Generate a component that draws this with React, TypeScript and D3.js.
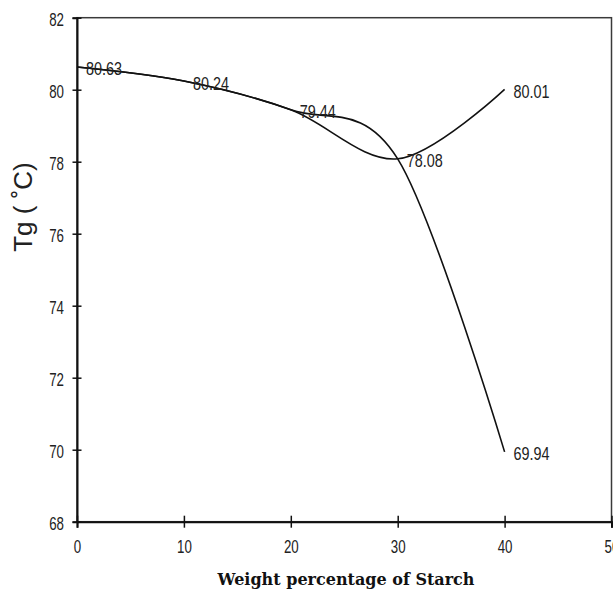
import { useRef, useEffect } from "react";
import * as d3 from "d3";

// starch content (wt %) and Tg readings of the two series
const starchPct = [0, 10, 20, 30, 40];
const tgRising = [80.63, 80.24, 79.44, 78.08, 80.01];
const tgFalling = [80.63, 80.24, 79.44, 78.08, 69.94];
const pointLabels = ["80.63", "80.24", "79.44", "78.08", "80.01", "69.94"];
const xTicks = [0, 10, 20, 30, 40, 50];
const yTicks = [68, 70, 72, 74, 76, 78, 80, 82];

// no narrow font installed, so squeeze Liberation Sans horizontally
const sans = "'Liberation Sans', Arial, sans-serif";
const tickSqueeze = 0.74;
const labelSqueeze = 0.8;

const App = () => {
  const svgRef = useRef<SVGSVGElement | null>(null);

  useEffect(() => {
    const svg = d3.select(svgRef.current);
    svg.selectAll("*").remove();

    const width = 613;
    const height = 592;
    const margin = { top: 17.7, right: 1.5, bottom: 70.3, left: 77 };

    const x = d3
      .scaleLinear()
      .domain([0, 50])
      .range([margin.left, width - margin.right]);

    const y = d3
      .scaleLinear()
      .domain([68, 82])
      .range([height - margin.bottom, margin.top]);

    // plot frame
    svg
      .append("rect")
      .attr("x", x(0))
      .attr("y", y(82))
      .attr("width", x(50) - x(0))
      .attr("height", y(68) - y(82))
      .attr("fill", "none")
      .attr("stroke", "#3a3a3a")
      .attr("stroke-width", 1.5);

    const yAxis = svg
      .append("g")
      .attr("transform", `translate(${x(0)},0)`)
      .call(d3.axisLeft(y).tickValues(yTicks).tickSize(4.5).tickPadding(9.5));
    yAxis.select(".domain").attr("stroke", "#111").attr("stroke-width", 2);
    yAxis.selectAll(".tick line").attr("x1", -4.5).attr("x2", 4.5).attr("stroke", "#111").attr("stroke-width", 1.5);
    yAxis
      .selectAll(".tick text")
      .attr("x", -13 / tickSqueeze)
      .attr("dy", "0.45em")
      .attr("transform", `scale(${tickSqueeze},1)`)
      .attr("font-family", sans)
      .attr("font-size", 18)
      .attr("fill", "#222");

    const xAxis = svg
      .append("g")
      .attr("transform", `translate(0,${y(68)})`)
      .call(d3.axisBottom(x).tickValues(xTicks).tickSize(6).tickPadding(13));
    xAxis.select(".domain").attr("stroke", "#111").attr("stroke-width", 2);
    xAxis.selectAll(".tick line").attr("y1", -6).attr("y2", 6).attr("stroke", "#111").attr("stroke-width", 1.5);
    xAxis
      .selectAll(".tick text")
      .attr("transform", `scale(${tickSqueeze},1)`)
      .attr("font-family", sans)
      .attr("font-size", 18)
      .attr("fill", "#222");

    const line = d3
      .line<number>()
      .x((_, i) => x(starchPct[i]))
      .y((d) => y(d))
      .curve(d3.curveCardinal.tension(0));

    [tgRising, tgFalling].forEach((series) => {
      svg
        .append("path")
        .datum(series)
        .attr("fill", "none")
        .attr("stroke", "#111")
        .attr("stroke-width", 1.6)
        .attr("d", line);
    });

    // value labels next to the points
    const labelPoints = [
      ...starchPct.map((p, i) => ({ px: p, v: tgRising[i] })),
      { px: starchPct[4], v: tgFalling[4] },
    ];
    svg
      .append("g")
      .attr("transform", `scale(${labelSqueeze},1)`)
      .selectAll("text")
      .data(labelPoints)
      .join("text")
      .attr("x", (d) => (x(d.px) + 9) / labelSqueeze)
      .attr("y", (d) => y(d.v) + 2)
      .attr("dy", "0.36em")
      .attr("font-family", sans)
      .attr("font-size", 18)
      .attr("fill", "#222")
      .text((_, i) => pointLabels[i]);

    svg
      .append("text")
      .attr("transform", "translate(32,207) rotate(-90)")
      .attr("text-anchor", "middle")
      .attr("font-family", sans)
      .attr("font-size", 26)
      .attr("fill", "#222")
      .text("Tg ( \u02DAC)");

    svg
      .append("text")
      .attr("x", 346)
      .attr("y", 585)
      .attr("text-anchor", "middle")
      .attr("font-family", "'DejaVu Serif', serif")
      .attr("font-weight", "bold")
      .attr("font-size", 16)
      .attr("fill", "#111")
      .text("Weight percentage of Starch");
  }, []);

  return (
    <svg
      ref={svgRef}
      width={613}
      height={592}
      style={{ position: "absolute", left: 0, top: 0, background: "#fff" }}
    />
  );
};

export default App;
